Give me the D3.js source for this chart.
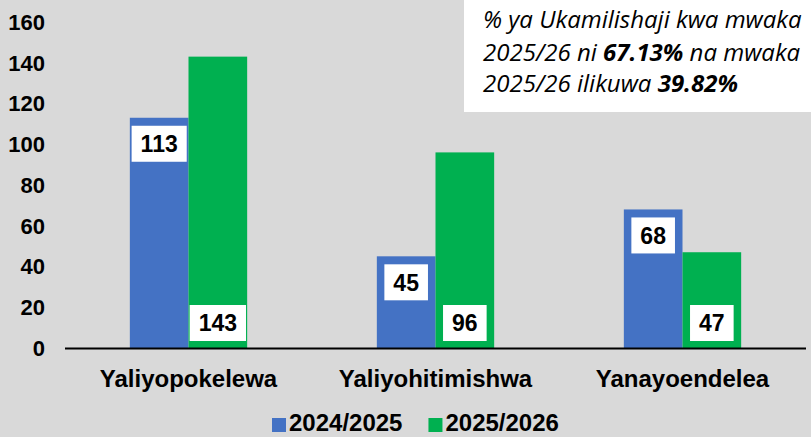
<!DOCTYPE html>
<head>
    <meta charset="utf-8">
    <title>Bar Chart</title>
    <script src="https://d3js.org/d3.v7.min.js"></script>
    <style>
        body { margin: 0; background: #d9d9d9; }
        svg { display: block; }
        text { font-family: "Liberation Sans", Arial, sans-serif; }
    </style>
</head>
<body>
    <div id="container"></div>
    <script>
        //----------------------------DATA------------------------------//
        var categories = ["Yaliyopokelewa", "Yaliyohitimishwa", "Yanayoendelea"];
        var seriesNames = ["2024/2025", "2025/2026"];
        var values2024 = [113, 45, 68];
        var values2025 = [143, 96, 47];
        var yTicks = [0, 20, 40, 60, 80, 100, 120, 140, 160];
        var noteLines = [
            [["% ya Ukamilishaji kwa mwaka", false]],
            [["2025/26 ni ", false], ["67.13%", true], [" na mwaka", false]],
            [["2025/26 ilikuwa ", false], ["39.82%", true]]
        ];

        var width = 811, height = 437;
        var colors = { "2024/2025": "#4472c4", "2025/2026": "#00b050" };

        var rows = categories.map(function (c, i) {
            return { cat: c, vals: [
                { name: seriesNames[0], v: values2024[i] },
                { name: seriesNames[1], v: values2025[i] }
            ] };
        });

        var svg = d3.select("#container").append("svg")
            .attr("width", width).attr("height", height);

        svg.append("rect").attr("width", width).attr("height", height).attr("fill", "#d9d9d9");

        //----------------------------SCALES----------------------------//
        var y = d3.scaleLinear().domain([0, 160]).range([348, 22]);
        var x0 = d3.scaleBand().domain(categories).range([65, 806])
            .paddingInner(0.525).paddingOuter(0.2625);
        var x1 = d3.scaleBand().domain(seriesNames).range([0, x0.bandwidth()]);

        //----------------------------Y AXIS----------------------------//
        svg.append("g").selectAll("text")
            .data(yTicks).enter().append("text")
            .attr("x", 45)
            .attr("y", function (d) { return y(d); })
            .attr("dy", "0.36em")
            .attr("text-anchor", "end")
            .style("font-size", "22px")
            .style("font-weight", "bold")
            .text(function (d) { return d; });

        //----------------------------BARS------------------------------//
        var groups = svg.selectAll(".grp").data(rows).enter().append("g")
            .attr("class", "grp")
            .attr("transform", function (d) { return "translate(" + x0(d.cat) + ",0)"; });

        groups.selectAll("rect.bar").data(function (d) { return d.vals; }).enter().append("rect")
            .attr("class", "bar")
            .attr("x", function (d) { return x1(d.name); })
            .attr("y", function (d) { return y(d.v); })
            .attr("width", x1.bandwidth())
            .attr("height", function (d) { return y(0) - y(d.v); })
            .attr("fill", function (d) { return colors[d.name]; });

        // x axis line
        svg.append("line")
            .attr("x1", 65).attr("x2", 806)
            .attr("y1", y(0) + 0.5).attr("y2", y(0) + 0.5)
            .attr("stroke", "#000").attr("stroke-width", 2);

        //----------------------------LABELS----------------------------//
        var labels = groups.selectAll("g.lbl").data(function (d) { return d.vals; }).enter().append("g")
            .attr("class", "lbl");

        labels.each(function (d, i) {
            var g = d3.select(this);
            var cx = x1(d.name) + x1.bandwidth() / 2;
            // blue labels at inside end, green at inside base
            var top = i === 0 ? y(d.v) + 8 : y(0) - 7 - 36;
            var t = g.append("text")
                .attr("x", cx)
                .attr("y", top + 18)
                .attr("dy", "0.36em")
                .attr("text-anchor", "middle")
                .style("font-size", "23px")
                .style("font-weight", "bold")
                .text(d.v);
            var w = t.node().getComputedTextLength() + 18;
            g.insert("rect", "text")
                .attr("x", cx - w / 2)
                .attr("y", top)
                .attr("width", w)
                .attr("height", 36)
                .attr("fill", "#fff");
        });

        //----------------------------CATEGORY LABELS-------------------//
        svg.append("g").selectAll("text")
            .data(categories).enter().append("text")
            .attr("x", function (d) { return x0(d) + x0.bandwidth() / 2; })
            .attr("y", 387)
            .attr("text-anchor", "middle")
            .style("font-size", "24px")
            .style("font-weight", "bold")
            .text(function (d) { return d; });

        //----------------------------LEGEND----------------------------//
        var legend = svg.append("g").attr("transform", "translate(272,0)");
        var lx = 0;
        seriesNames.forEach(function (s) {
            legend.append("rect")
                .attr("x", lx).attr("y", 418).attr("width", 14).attr("height", 14)
                .attr("fill", colors[s]);
            var t = legend.append("text")
                .attr("x", lx + 17).attr("y", 431)
                .style("font-size", "24px")
                .style("font-weight", "bold")
                .text(s);
            lx += 17 + t.node().getComputedTextLength() + 26;
        });

        //----------------------------NOTE BOX--------------------------//
        svg.append("rect")
            .attr("x", 464).attr("y", 0).attr("width", 347).attr("height", 112)
            .attr("fill", "#fff");

        var note = svg.append("text")
            .style("font-family", "'Open Sans', sans-serif")
            .style("font-style", "italic")
            .style("font-size", "22px");
        var baselines = [28, 61, 92];
        noteLines.forEach(function (line, i) {
            var first = true;
            line.forEach(function (part) {
                var ts = note.append("tspan").text(part[0])
                    .style("font-weight", part[1] ? "bold" : "normal");
                if (first) { ts.attr("x", 483).attr("y", baselines[i]); first = false; }
            });
        });
        // fit the first line to the width seen in the box (about 320px)
        var firstW = note.select("tspan").node().getComputedTextLength();
        var fs = Math.min(24, 22 * 320 / firstW);
        note.style("font-size", fs + "px");
    </script>
</body>
